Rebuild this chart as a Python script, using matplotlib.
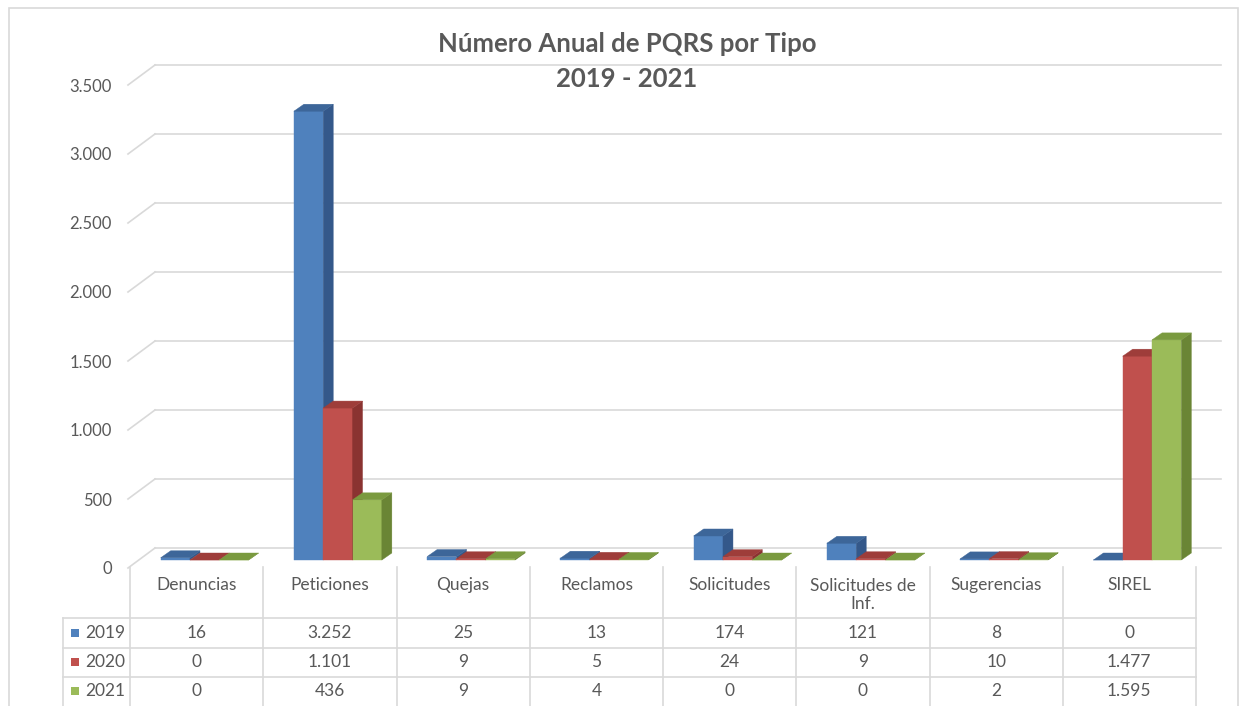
import numpy as np
import matplotlib
matplotlib.use("Agg")
import matplotlib.pyplot as plt
import matplotlib.transforms as mtransforms
from matplotlib.patches import Polygon, Rectangle
from matplotlib.lines import Line2D

plt.rcParams['font.family'] = ['Lato', 'DejaVu Sans']

# Data
categories = ['Denuncias', 'Peticiones', 'Quejas', 'Reclamos', 'Solicitudes',
              'Solicitudes de\nInf.', 'Sugerencias', 'SIREL']
years = ['2019', '2020', '2021']
pqrs_2019 = [16, 3252, 25, 13, 174, 121, 8, 0]
pqrs_2020 = [0, 1101, 9, 5, 24, 9, 10, 1477]
pqrs_2021 = [0, 436, 9, 4, 0, 0, 2, 1595]
y_ticks = [0, 500, 1000, 1500, 2000, 2500, 3000, 3500]

# Styling
W, H = 1244, 706
front_c = ['#4F81BD', '#C0504D', '#9BBB59']
side_c = ['#34588A', '#8A3331', '#6A8535']
top_c = ['#3D6699', '#9E3D3A', '#7A9A3F']
grid_c = '#D9D9D9'
text_c = '#595959'


def fmt(v):
    return f"{v:,}".replace(",", ".")


def fy(y):
    # image pixel row -> figure fraction
    return 1 - y / H


fig = plt.figure(figsize=(W / 100, H / 100), dpi=100)
fig.patch.set_facecolor('white')

# front plane of the chart floor
ax = fig.add_axes([130 / W, (H - 568) / H, 1066 / W, 483 / H])
ax.set_xlim(-0.5, 7.5)
ax.set_ylim(0, 3500)
for s in ax.spines.values():
    s.set_visible(False)
ax.patch.set_visible(False)
ax.set_xticks([])
ax.set_yticks(y_ticks)
ax.set_yticklabels([fmt(t) for t in y_ticks])
ax.tick_params(axis='y', length=0, pad=13, labelsize=12, labelcolor=text_c)


def px_to_data(dx, dy):
    x0, y0 = ax.transData.transform((0, 0))
    return ax.transData.inverted().transform((x0 + dx, y0 + dy))


wall_dx, wall_dy = px_to_data(25, 20)
bar_dx, bar_dy = px_to_data(8, 8)
dep_dx, dep_dy = px_to_data(10, 7)
left_dx, _ = px_to_data(-2, 0)

# back wall gridlines and side wall connectors
for t in y_ticks:
    ax.plot([-0.5 + wall_dx, 7.5 + wall_dx], [t + wall_dy, t + wall_dy],
            color=grid_c, lw=1.2, clip_on=False, zorder=1)
    ax.plot([-0.5 + left_dx, -0.5 + wall_dx], [t, t + wall_dy],
            color=grid_c, lw=1.2, clip_on=False, zorder=1)

# 3D-looking bars
bar_w = 0.22
series = [pqrs_2019, pqrs_2020, pqrs_2021]
x = np.arange(len(categories))
for k, vals in enumerate(series):
    xs = x + (k - 1) * bar_w + bar_dx
    ax.bar(xs, vals, width=bar_w, bottom=bar_dy, color=front_c[k],
           edgecolor=front_c[k], linewidth=0.3, zorder=3 + k, clip_on=False)
    for xi, v in zip(xs, vals):
        xl, xr = xi - bar_w / 2, xi + bar_w / 2
        yt = bar_dy + v
        side = Polygon([(xr, bar_dy), (xr, yt), (xr + dep_dx, yt + dep_dy),
                        (xr + dep_dx, bar_dy + dep_dy)], closed=True,
                       fc=side_c[k], ec=side_c[k], lw=0.3, zorder=3 + k, clip_on=False)
        top = Polygon([(xl, yt), (xr, yt), (xr + dep_dx, yt + dep_dy),
                       (xl + dep_dx, yt + dep_dy)], closed=True,
                      fc=top_c[k], ec=top_c[k], lw=0.3, zorder=3 + k, clip_on=False)
        ax.add_patch(side)
        ax.add_patch(top)

# data table
bt = mtransforms.blended_transform_factory(ax.transData, fig.transFigure)
for i in range(len(categories) + 1):
    fig.add_artist(Line2D([i - 0.5, i - 0.5], [fy(567), 0], transform=bt,
                          color=grid_c, lw=1.2))
fig.add_artist(Line2D([63 / W, 63 / W], [fy(618), 0], color=grid_c, lw=1.2))
for yy in [618, 648, 677]:
    fig.add_artist(Line2D([63 / W, 1196 / W], [fy(yy), fy(yy)], color=grid_c, lw=1.2))

for i, name in enumerate(categories):
    n = name.count('\n')
    ax.text(i, fy(585 + 10 * n), name, transform=bt, ha='center', va='center',
            fontsize=12.5, color=text_c, linespacing=1.15)

row_y = [633, 662, 691]
for k, vals in enumerate(series):
    for i, v in enumerate(vals):
        ax.text(i, fy(row_y[k]), fmt(v), transform=bt, ha='center', va='center',
                fontsize=12.5, color=text_c)
    fig.add_artist(Rectangle((71 / W, fy(row_y[k] + 4)), 8 / W, 8 / H,
                             transform=fig.transFigure, fc=front_c[k], ec='none'))
    fig.text(85 / W, fy(row_y[k]), years[k], ha='left', va='center',
             fontsize=12.5, color=text_c)

# title
fig.text(627 / W, fy(44), 'Número Anual de PQRS por Tipo', ha='center', va='center',
         fontsize=18.5, fontweight='bold', color=text_c)
fig.text(627 / W, fy(79), '2019 - 2021', ha='center', va='center',
         fontsize=18.5, fontweight='bold', color=text_c)

# chart border
fig.add_artist(Rectangle((9 / W, fy(720)), (1238 - 9) / W, (720 - 8) / H,
                         transform=fig.transFigure, fill=False, ec=grid_c, lw=1.2))

fig.savefig('out.png', dpi=100, facecolor='white')
